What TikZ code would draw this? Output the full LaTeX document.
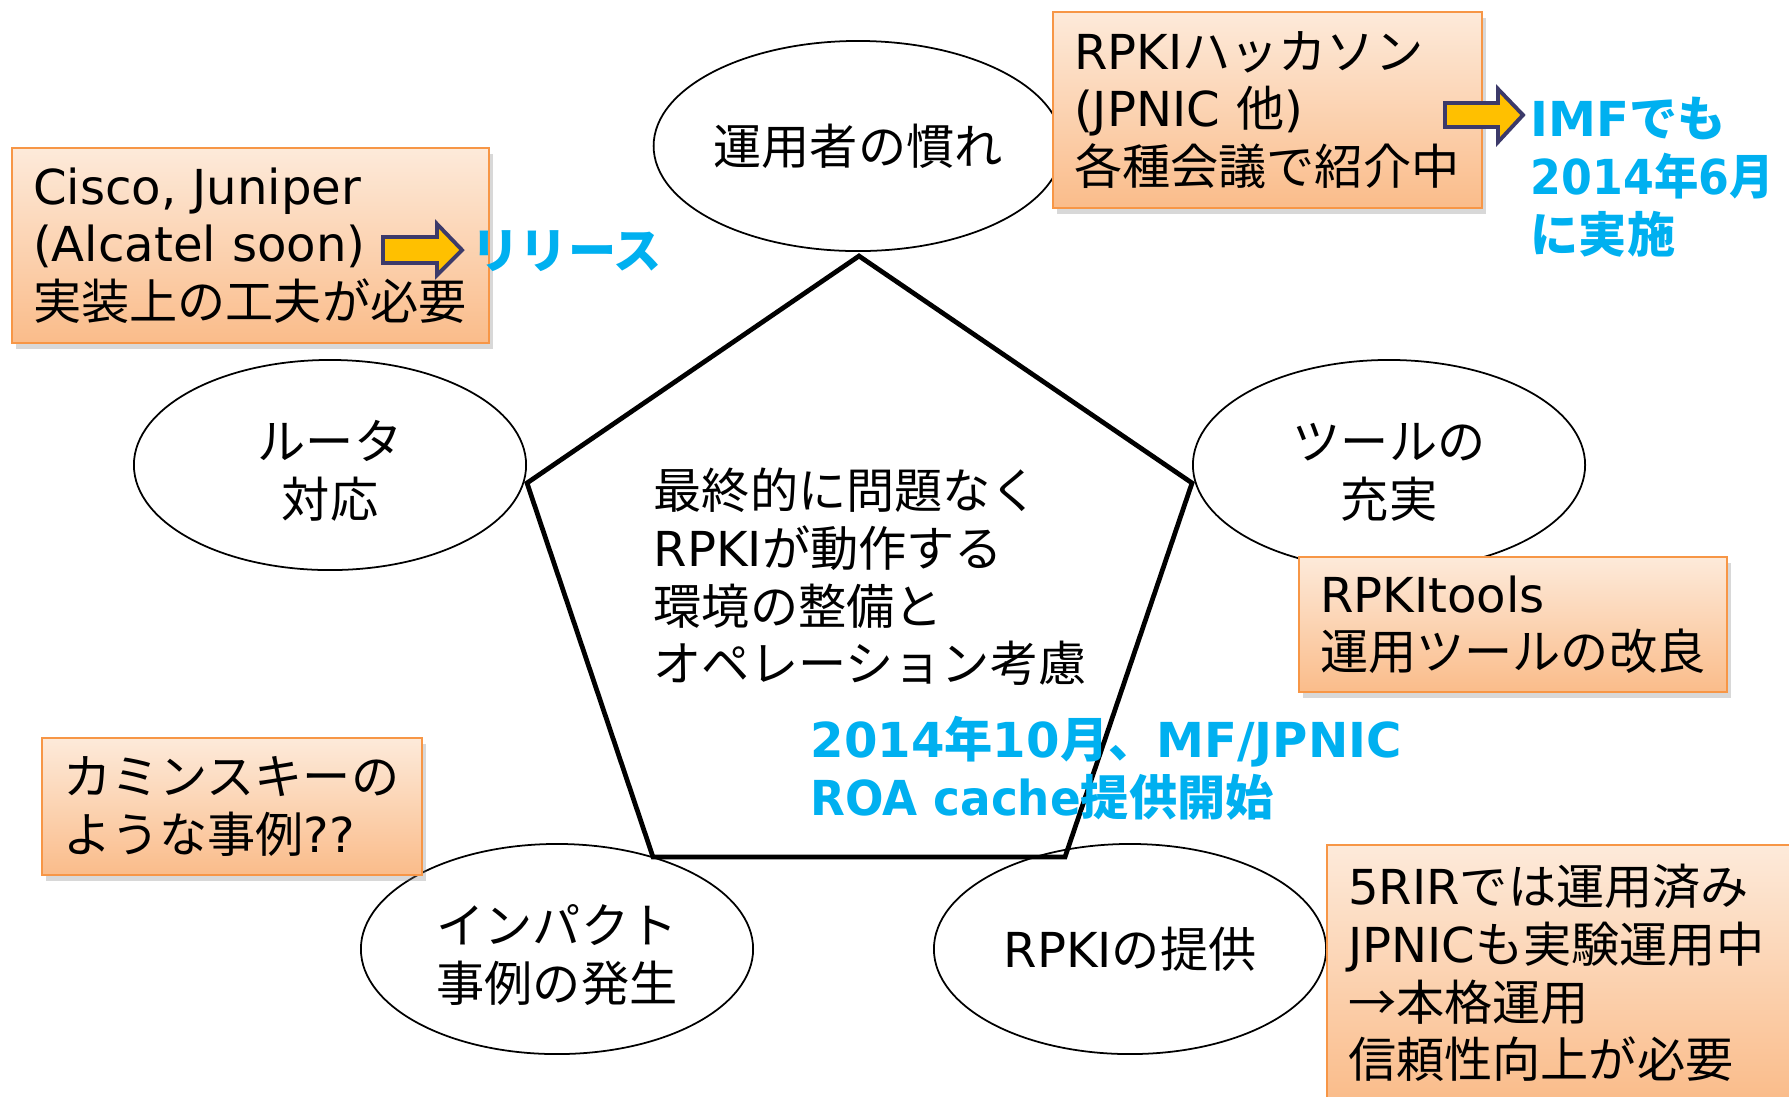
\documentclass[tikz,border=0pt]{standalone}
\usepackage{fontspec}
\usepackage{graphicx}
\setmainfont{Noto Sans CJK JP}
\newfontfamily\lf{DejaVu Sans}
\usetikzlibrary{shapes.geometric,shadows}
\definecolor{boxtop}{RGB}{253,234,218}
\definecolor{boxbot}{RGB}{250,188,138}
\definecolor{boxline}{RGB}{247,150,70}
\definecolor{blu}{RGB}{0,176,240}
\definecolor{arrfill}{RGB}{255,192,0}
\definecolor{arrline}{RGB}{60,58,106}
\begin{document}
\begin{tikzpicture}[x=0.01cm,y=-0.01cm,
  txt/.style={font=\fontsize{13.7pt}{16.4pt}\selectfont, inner sep=0pt, align=left},
  oval/.style={ellipse, draw, line width=0.5pt, minimum width=3.92cm, minimum height=2.1cm, inner sep=0pt, align=center, font=\fontsize{13.7pt}{16.4pt}\selectfont},
  notebox/.style={draw=boxline, line width=0.6pt, top color=boxtop, bottom color=boxbot,
     drop shadow={shadow xshift=0.04cm, shadow yshift=-0.06cm, opacity=0.3},
     anchor=north west, align=left, inner xsep=0.21cm, inner ysep=0pt,
     font=\fontsize{13.7pt}{16.4pt}\selectfont},
  bluetxt/.style={inner sep=0pt, align=left, text=blu, font=\fontsize{13.7pt}{16.4pt}\selectfont\bfseries},
  blockarrow/.style={fill=arrfill, draw=arrline, line width=1.1pt, line join=miter}
]
\useasboundingbox (0,0) rectangle (1789,1096);
\fill[white] (0,0) rectangle (1789,1096);
\clip (0,0) rectangle (1789,1096);

% ellipses
\node[oval] (e1) at (858,146) {運用者の慣れ};
\node[oval] (e2) at (330,465) {\rule{0pt}{1.05em}ルータ\\対応};
\node[oval] (e3) at (1389,465) {\rule{0pt}{1.05em}ツールの\\充実};
\node[oval] (e4) at (557,949) {\rule{0pt}{1.05em}インパクト\\事例の発生};
\node[oval] (e5) at (1130,949) {{\lf RPKI}の提供};

% pentagon
\coordinate (pt) at (859,256);
\coordinate (pr) at (1192,483);
\coordinate (pbr) at (1065,857);
\coordinate (pbl) at (653,857);
\coordinate (pl) at (527,483);
\draw[line width=1.35pt, line join=miter] (pt) -- (pr) -- (pbr) -- (pbl) -- (pl) -- cycle;

\node[txt, anchor=west] (core) at (653,577) {最終的に問題なく\\{\lf RPKI}が動作する\\環境の整備と\\オペレーション考慮};

% note boxes
\node[notebox, text width=4.35cm, minimum height=1.95cm] (bA) at (11,147)
  {{\lf Cisco, Juniper}\\{\lf (Alcatel soon)}\\実装上の工夫が必要};
\node[notebox, text width=3.87cm, minimum height=1.96cm] (bB) at (1052,11)
  {{\lf RPKI}ハッカソン\\{\lf (JPNIC }他{\lf )}\\各種会議で紹介中};
\node[notebox, text width=3.86cm, minimum height=1.35cm] (bC) at (1298,556)
  {{\lf RPKItools}\\運用ツールの改良};
\node[notebox, text width=3.38cm, minimum height=1.37cm] (bD) at (41,737)
  {カミンスキーの\\ような事例{\lf ??}};
\node[notebox, text width=4.42cm, minimum height=2.56cm] (bE) at (1326,844)
  {{\lf 5RIR}では運用済み\\{\lf JPNIC}も実験運用中\\→本格運用\\信頼性向上が必要};

% block arrows
\draw[blockarrow] (383,237) -- (437,237) -- (437,224) -- (462,250) -- (437,275) -- (437,263) -- (383,263) -- cycle;
\draw[blockarrow] (1445,103) -- (1498,103) -- (1498,89) -- (1523,115) -- (1498,142) -- (1498,127) -- (1445,127) -- cycle;

% blue texts
\node[bluetxt, anchor=west] (rel) at (471,251) {リリース};
\node[bluetxt, anchor=west] (imf) at (1530,177) {{\lf IMF}でも\\\scalebox{0.92}[1]{{\lf 2014}年{\lf 6}月}\\に実施};
\node[bluetxt, anchor=west] (roa) at (810,768) {{\lf 2014}年{\lf 10}月、{\lf MF/JPNIC}\\\scalebox{0.94}[1]{\lf ROA cache}提供開始};
\end{tikzpicture}
\end{document}
